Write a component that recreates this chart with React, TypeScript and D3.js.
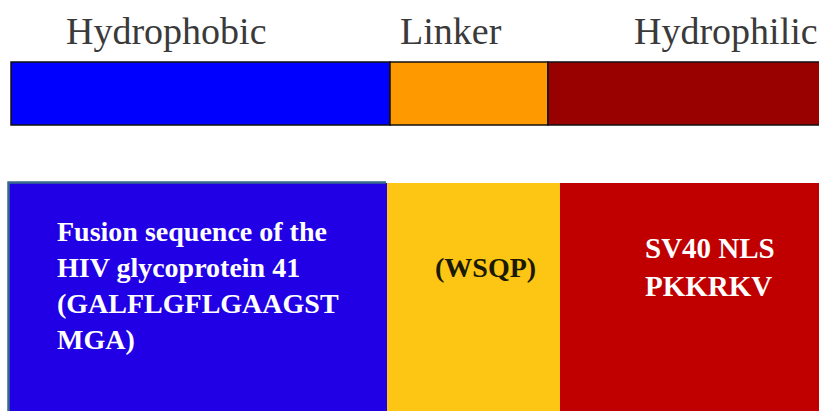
import React from "react";
import * as d3 from "d3";

const domainNames = ["Hydrophobic", "Linker", "Hydrophilic"];
const domainSpan = [379, 158, 290];
const domainColors = ["#0000ff", "#ff9900", "#990000"];

const segmentSpan = [378, 173, 280];
const segmentColors = ["#2200e6", "#fdc514", "#c00000"];
const segmentLines = [
  ["Fusion sequence of the", "HIV glycoprotein 41", "(GALFLGFLGAAGST", "MGA)"],
  ["(WSQP)"],
  ["SV40 NLS", "PKKRKV"],
];
const segmentTextColors = ["#ffffff", "#1a1a00", "#ffffff"];

const W = 819;
const H = 411;

export default function App() {
  const topStarts = d3.cumsum([0, ...domainSpan.slice(0, -1)]);
  const topX = d3.scaleLinear().domain([0, d3.sum(domainSpan)]).range([11, 11 + d3.sum(domainSpan)]);
  const botStarts = d3.cumsum([0, ...segmentSpan.slice(0, -1)]);
  const botX = d3.scaleLinear().domain([0, d3.sum(segmentSpan)]).range([9, 9 + d3.sum(segmentSpan)]);

  const labelX = [66, 400, 634];
  const textX = [57, 435, 645];
  const textY0 = [241, 277, 258];
  const lineH = [36, 36, 38];
  const textSize = [28, 28, 29];

  return (
    <svg width={W} height={H} style={{ position: "absolute", left: 0, top: 0, background: "#fff" }}>
      {domainNames.map((n, i) => (
        <g key={n}>
          <rect
            x={topX(topStarts[i])}
            y={62}
            width={topX(topStarts[i] + domainSpan[i]) - topX(topStarts[i])}
            height={63}
            fill={domainColors[i]}
            stroke="#111"
            strokeWidth={1.5}
          />
          <text
            x={labelX[i]}
            y={44}
            fontFamily="'Liberation Serif', 'Times New Roman', serif"
            fontSize={38}
            fill="#3a3a3a"
          >
            {n}
          </text>
        </g>
      ))}
      {segmentSpan.map((s, i) => (
        <g key={i}>
          <rect
            x={botX(botStarts[i])}
            y={183}
            width={botX(botStarts[i] + s) - botX(botStarts[i])}
            height={H - 183 + 5}
            fill={segmentColors[i]}
          />
        </g>
      ))}
      <path d={`M8.5,${H + 5} V182.5 H386`} fill="none" stroke="#3a6a8a" strokeWidth={2.5} />
      {segmentLines.map((lines, i) =>
        lines.map((t, j) => (
          <text
            key={i + "-" + j}
            x={textX[i]}
            y={textY0[i] + j * lineH[i]}
            fontFamily="'Liberation Serif', 'Times New Roman', serif"
            fontWeight="bold"
            fontSize={textSize[i]}
            fill={segmentTextColors[i]}
          >
            {t}
          </text>
        ))
      )}
    </svg>
  );
}
